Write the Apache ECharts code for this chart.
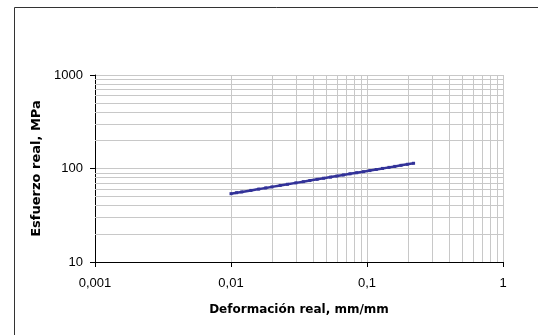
<!DOCTYPE html>
<html>
<head>
<meta charset="utf-8">
<script src="https://cdn.jsdelivr.net/npm/echarts@6/dist/echarts.min.js"></script>
<style>
  html, body { margin: 0; padding: 0; background: #fff; }
  #chart { width: 538px; height: 335px; }
</style>
</head>
<body>
<div id="chart"></div>
<script>
// strain (mm/mm) and true stress (MPa)
var strain = [0.010, 0.011, 0.012, 0.014, 0.016, 0.018, 0.020, 0.023, 0.026, 0.030,
              0.034, 0.038, 0.043, 0.048, 0.054, 0.060, 0.067, 0.075, 0.084, 0.094,
              0.105, 0.117, 0.130, 0.145, 0.160, 0.178, 0.198, 0.220];
var stress = [53.8, 55.1, 56.2, 58.3, 60.2, 62.0, 63.6, 65.9, 67.8, 70.2,
              72.3, 74.3, 76.6, 78.7, 80.9, 83.0, 85.3, 87.7, 90.1, 92.5,
              95.0, 97.6, 100.2, 102.8, 105.3, 108.1, 110.9, 113.7];

var xMinor = [0.002, 0.003, 0.004, 0.005, 0.006, 0.007, 0.008, 0.009,
              0.02, 0.03, 0.04, 0.05, 0.06, 0.07, 0.08, 0.09,
              0.2, 0.3, 0.4, 0.5, 0.6, 0.7, 0.8, 0.9];
var yMinor = [20, 30, 40, 50, 60, 70, 80, 90,
              200, 300, 400, 500, 600, 700, 800, 900];

var chartDom = document.getElementById('chart');
var myChart = echarts.init(chartDom);

var points = strain.map(function (x, i) { return [x, stress[i]]; });
var gridColor = '#c8c8c8';
var minorLines = xMinor.map(function (v) { return { xAxis: v }; })
    .concat(yMinor.map(function (v) { return { yAxis: v }; }));

function fmt(v) { return String(+v.toPrecision(6)).replace('.', ','); }

var option = {
    animation: false,
    textStyle: { fontFamily: 'Liberation Sans, Arial, sans-serif' },
    graphic: [{
        type: 'rect',
        shape: { x: 14.5, y: 7.5, width: 600, height: 400 },
        style: { fill: 'none', stroke: '#333', lineWidth: 1 },
        silent: true
    }],
    grid: { left: 95, right: 35, top: 75, bottom: 73 },
    xAxis: {
        type: 'log',
        logBase: 10,
        min: 0.001,
        max: 1,
        name: 'Deformación real, mm/mm',
        nameLocation: 'middle',
        nameGap: 42,
        nameTextStyle: { fontFamily: 'DejaVu Sans', fontWeight: 'bold', fontSize: 12, color: '#000' },
        axisLine: { show: true, onZero: false, lineStyle: { color: '#000', width: 1 } },
        axisTick: { show: true, length: 5, lineStyle: { color: '#000' } },
        axisLabel: { fontSize: 13, color: '#000', margin: 15, formatter: fmt },
        splitLine: { show: true, lineStyle: { color: gridColor, width: 1 } }
    },
    yAxis: {
        type: 'log',
        logBase: 10,
        min: 10,
        max: 1000,
        name: 'Esfuerzo real, MPa',
        nameLocation: 'middle',
        nameGap: 50,
        nameTextStyle: { fontFamily: 'DejaVu Sans', fontWeight: 'bold', fontSize: 13, color: '#000' },
        axisLine: { show: true, onZero: false, lineStyle: { color: '#000', width: 1 } },
        axisTick: { show: true, length: 5, lineStyle: { color: '#000' } },
        axisLabel: { fontSize: 13, color: '#000', margin: 12, formatter: fmt },
        splitLine: { show: true, lineStyle: { color: gridColor, width: 1 } }
    },
    series: [{
        type: 'line',
        data: points,
        symbol: 'rect',
        symbolSize: 3,
        itemStyle: { color: '#333399' },
        lineStyle: { color: '#333399', width: 2.5 },
        z: 5,
        markLine: {
            silent: true,
            symbol: 'none',
            label: { show: false },
            lineStyle: { color: gridColor, type: 'solid', width: 1 },
            data: minorLines,
            z: 1
        }
    }]
};

myChart.setOption(option);
</script>
</body>
</html>
